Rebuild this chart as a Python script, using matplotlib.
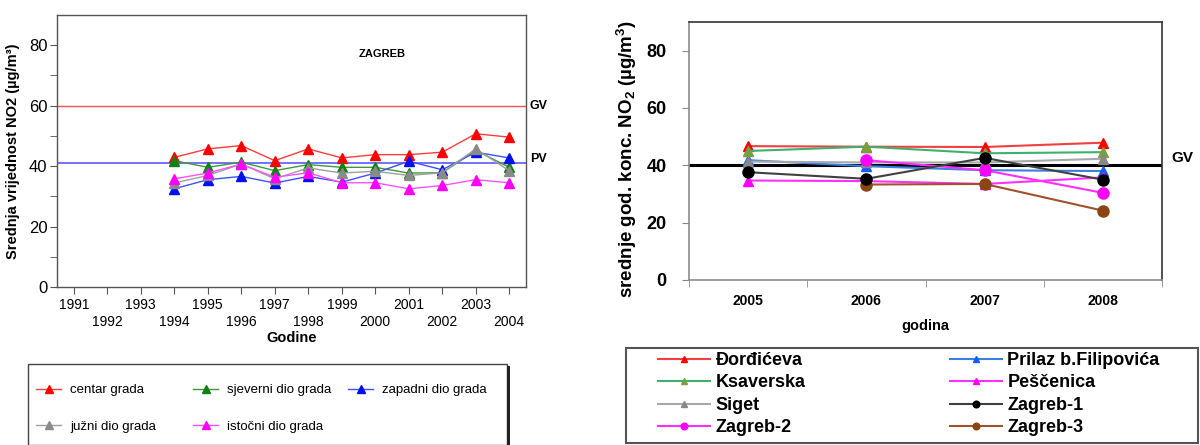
import numpy as np
import matplotlib
matplotlib.use('Agg')
import matplotlib.pyplot as plt
from matplotlib.patches import Rectangle

plt.rcParams['font.family'] = ['Liberation Sans', 'DejaVu Sans']
plt.rcParams['mathtext.fontset'] = 'custom'
plt.rcParams['mathtext.rm'] = 'Liberation Sans:bold'
plt.rcParams['mathtext.bf'] = 'Liberation Sans:bold'
plt.rcParams['mathtext.it'] = 'Liberation Sans:bold'

# left chart: Zagreb, 1994-2004
years_a = [1994, 1995, 1996, 1997, 1998, 1999, 2000, 2001, 2002, 2003, 2004]
centar = [42.9, 45.7, 46.8, 41.8, 45.7, 42.7, 43.8, 43.8, 44.6, 50.7, 49.6]
sjeverni = [41.8, 39.6, 41.3, 38.5, 40.5, 39.6, 39.6, 37.7, 37.8, 45.2, 39.6]
zapadni = [32.5, 35.5, 36.6, 34.4, 36.6, 34.7, 37.7, 41.6, 38.8, 44.6, 42.7]
juzni = [34.4, 36.9, 40.7, 35.8, 39.4, 37.7, 38.3, 36.9, 37.8, 45.7, 38.5]
istocni = [35.8, 37.7, 40.7, 36.3, 37.8, 34.5, 34.5, 32.5, 33.6, 35.5, 34.5]
gv_a = 60
pv_a = 41
xticks_a = list(range(1991, 2005))

# right chart: stations, 2005-2008
years_b = [2005, 2006, 2007, 2008]
dordiceva = [46.7, 46.5, 46.4, 47.9]
prilaz = [41.8, 39.7, 38.3, 38.0]
ksaverska = [45.0, 46.5, 44.2, 44.6]
pescenica = [34.7, 34.5, 33.5, 35.8]
siget = [41.3, 41.0, 41.0, 42.3]
zagreb1 = [37.6, 35.3, 42.6, 35.0]
zagreb2 = [np.nan, 41.8, 38.3, 30.4]
zagreb3 = [np.nan, 33.3, 33.5, 24.2]
gv_b = 40

W, H = 1200, 445


def box(l, t, r, b):
    return [l / W, 1 - b / H, (r - l) / W, (b - t) / H]


fig = plt.figure(figsize=(12, 4.45), dpi=100)

######################################################################
# left chart
ax1 = fig.add_axes(box(57, 15, 526, 287))

ax1.axhline(gv_a, color='#ff5050', lw=1, zorder=1)
ax1.axhline(pv_a, color='#5a5aff', lw=1.2, zorder=1)

left_series = [
    (centar, 'centar grada', '#ff3c3c', '#ff0000'),
    (sjeverni, 'sjeverni dio grada', '#3c9a3c', '#108010'),
    (zapadni, 'zapadni dio grada', '#3c50ff', '#0010ee'),
    (juzni, 'južni dio grada', '#a0a0a0', '#8a8a8a'),
    (istocni, 'istočni dio grada', '#ff50ff', '#ff00ff'),
]
hl = {}
for vals, lab, lc, mc in left_series:
    hl[lab], = ax1.plot(years_a, vals, color=lc, lw=1, marker='^', ms=7,
                        mfc=mc, mec=mc, label=lab)

ax1.set_xlim(1990.5, 2004.5)
ax1.set_ylim(0, 90)
ax1.set_xticks(xticks_a)
ax1.set_xticklabels([str(y) if y % 2 else '\n' + str(y) for y in xticks_a],
                    fontsize=10, linespacing=1.3)
ax1.set_yticks([0, 20, 40, 60, 80])
ax1.set_yticks([10, 30, 50, 70], minor=True)
ax1.tick_params(axis='y', labelsize=12, length=5, pad=2, color='#555')
ax1.tick_params(axis='y', which='minor', length=5, color='#555')
ax1.tick_params(axis='x', length=5, pad=3, color='#555')
for s in ax1.spines.values():
    s.set_color('#555')
    s.set_linewidth(1)

ax1.set_ylabel('Srednja vrijednost NO2 (µg/m³)', fontsize=10.5, fontweight='bold')
ax1.yaxis.set_label_coords(-0.079, 0.5)
ax1.set_xlabel('Godine', fontsize=10.5, fontweight='bold', labelpad=1)

ax1.text(2000.2, 77, 'ZAGREB', fontsize=8, fontweight='bold', ha='center', va='center')
ax1.text(1.008, gv_a, 'GV', transform=ax1.get_yaxis_transform(), fontsize=9,
         fontweight='bold', va='center', ha='left')
ax1.text(1.008, pv_a + 1.2, 'PV', transform=ax1.get_yaxis_transform(), fontsize=9,
         fontweight='bold', va='center', ha='left')

# left legend, frame and shadow drawn by hand
fig.patches.append(Rectangle((28 / W, 0), (507 - 28) / W, 1 - 364 / H,
                             transform=fig.transFigure, fill=False,
                             edgecolor='#444', lw=1))
fig.patches.append(Rectangle((507 / W, 0), 3 / W, 1 - 366 / H,
                             transform=fig.transFigure, color='#222', lw=0))
cols_a = [
    (36, ['centar grada', 'južni dio grada']),
    (193, ['sjeverni dio grada', 'istočni dio grada']),
    (348, ['zapadni dio grada']),
]
for x0, labs in cols_a:
    fig.legend([hl[l] for l in labs], labs, loc='upper left',
               bbox_to_anchor=(x0 / W, 1 - 384 / H), frameon=False,
               borderpad=0, borderaxespad=0, fontsize=9.5, labelspacing=1.85,
               handlelength=1.9, handletextpad=0.7, markerscale=0.75)

######################################################################
# right chart
ax2 = fig.add_axes(box(689, 22, 1162, 280))

ax2.axhline(gv_b, color='black', lw=2.2, zorder=1)

right_series = [
    (dordiceva, 'Đorđićeva', '#f04040', '#ff0000', '^'),
    (prilaz, 'Prilaz b.Filipovića', '#3a80e0', '#1060f0', '^'),
    (ksaverska, 'Ksaverska', '#40b070', '#78a040', '^'),
    (siget, 'Siget', '#a8a8a8', '#888888', '^'),
    (pescenica, 'Peščenica', '#ff30ff', '#ff00ff', '^'),
    (zagreb3, 'Zagreb-3', '#a0522d', '#8b4513', 'o'),
    (zagreb2, 'Zagreb-2', '#ff30ff', '#ff00ff', 'o'),
    (zagreb1, 'Zagreb-1', '#404040', '#000000', 'o'),
]
hr = {}
for vals, lab, lc, mc, mk in right_series:
    hr[lab], = ax2.plot(years_b, vals, color=lc, lw=1.5, marker=mk,
                        ms=7.5 if mk == '^' else 8, mfc=mc, mec=mc, label=lab)

ax2.set_xlim(2004.5, 2008.5)
ax2.set_ylim(0, 90)
ax2.set_xticks(years_b)
ax2.set_xticklabels([str(y) for y in years_b], fontsize=10, fontweight='bold')
ax2.set_xticks([2004.5, 2005.5, 2006.5, 2007.5, 2008.5], minor=True)
ax2.tick_params(axis='x', which='major', length=0, pad=10)
ax2.tick_params(axis='x', which='minor', length=5, color='#888')
ax2.set_yticks([0, 20, 40, 60, 80])
ax2.set_yticklabels(['0', '20', '40', '60', '80'], fontsize=13, fontweight='bold')
ax2.tick_params(axis='y', length=5, pad=11, color='#888')
for side in ['left', 'bottom']:
    ax2.spines[side].set_color('#8c8c8c')
    ax2.spines[side].set_linewidth(1.2)
for side in ['top', 'right']:
    ax2.spines[side].set_color('#333')
    ax2.spines[side].set_linewidth(1.2)

ax2.set_ylabel(r'srednje god. konc. NO$_\mathbf{2}$ (µg/m$^\mathbf{3}$)',
               fontsize=13.5, fontweight='bold')
ax2.yaxis.set_label_coords(-0.105, 0.47)
ax2.set_xlabel('godina', fontsize=10.5, fontweight='bold', labelpad=8)
ax2.text(1.02, gv_b + 2.5, 'GV', transform=ax2.get_yaxis_transform(), fontsize=11,
         fontweight='bold', va='center', ha='left')

# right legend
fig.patches.append(Rectangle((626 / W, 1 - 443 / H), (1198 - 626) / W, (443 - 348) / H,
                             transform=fig.transFigure, fill=False,
                             edgecolor='#555', lw=1.5))
cols_b = [
    (658, ['Đorđićeva', 'Ksaverska', 'Siget', 'Zagreb-2']),
    (950, ['Prilaz b.Filipovića', 'Peščenica', 'Zagreb-1', 'Zagreb-3']),
]
for x0, labs in cols_b:
    fig.legend([hr[l] for l in labs], labs, loc='upper left',
               bbox_to_anchor=(x0 / W, 1 - 352 / H), frameon=False,
               borderpad=0, borderaxespad=0, labelspacing=0.3,
               handlelength=2.9, handletextpad=0.28, markerscale=0.6,
               prop={'size': 13, 'weight': 'bold'})

fig.savefig('out.png', dpi=100)
